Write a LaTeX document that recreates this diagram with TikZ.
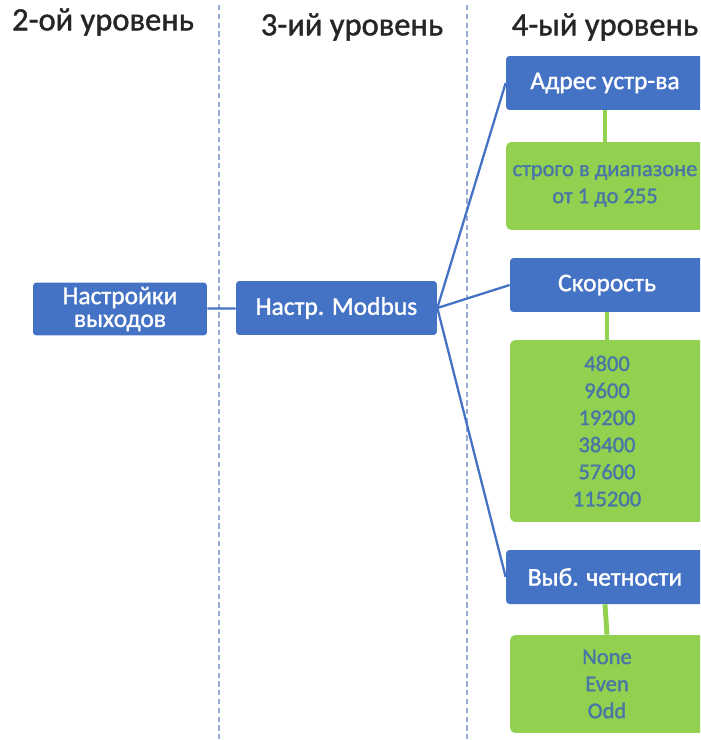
\documentclass[tikz,border=0pt]{standalone}
\usepackage{fontspec}
\setmainfont{Carlito}[RawFeature={embolden=1.3}]
\usetikzlibrary{positioning}

\begin{document}
\begin{tikzpicture}[x=0.02cm, y=-0.02cm,
    blueBox/.style={rectangle, rounded corners=2pt, fill=boxBlue, text=white,
        font=\fontsize{14.5}{13}\selectfont, align=center, inner sep=0pt},
    greenBox/.style={rectangle, rounded corners=3pt, fill=boxGreen, text=valText,
        font=\fontsize{12.8}{15.4}\selectfont, align=center, inner sep=0pt},
    levelTitle/.style={font=\fontsize{18.5}{20}\selectfont, text=black!85},
    branch/.style={draw=boxBlue, line width=1.3pt},
    leaf/.style={draw=boxGreen, line width=2.8pt}]
        % --- CONFIGURATION ---
        \definecolor{boxBlue}{RGB}{68, 114, 196}    % bleu des blocs
        \definecolor{boxGreen}{RGB}{146, 208, 80}   % vert des valeurs
        \definecolor{valText}{RGB}{72, 118, 165}    % texte des valeurs
        \definecolor{sepLine}{RGB}{150, 172, 214}   % separateurs

        \clip (0,0) rectangle (700,740);

        % Separateurs de niveaux
        \draw[sepLine, dashed, dash pattern=on 3pt off 2pt, line width=0.6pt] (219,5) -- (219,740);
        \draw[sepLine, dashed, dash pattern=on 3pt off 2pt, line width=0.6pt] (467,5) -- (467,740);

        % Titres
        \node[levelTitle] (lvlTwo) at (103,22) {2-ой уровень};
        \node[levelTitle] (lvlThree) at (352,27) {3-ий уровень};
        \node[levelTitle] (lvlFour) at (605,27) {4-ый уровень};

        % --- BLOCS ---
        \node[blueBox, minimum width=3.48cm, minimum height=1.06cm] (outSet) at (120,309) {Настройки\\выходов};
        \node[blueBox, minimum width=4.02cm, minimum height=1.08cm] (modbus) at (336.5,308) {Настр. Modbus};

        \node[blueBox, minimum width=3.96cm, minimum height=1.08cm] (devAddr) at (605,83) {Адрес устр-ва};
        \node[greenBox, minimum width=3.96cm, minimum height=1.76cm] (addrRange) at (605,186) {строго в диапазоне\\от 1 до 255};

        \node[blueBox, minimum width=3.88cm, minimum height=1.08cm] (speed) at (607,285) {Скорость};
        \node[greenBox, minimum width=3.88cm, minimum height=3.64cm] (speedVals) at (607,431)
            {4800\\9600\\19200\\38400\\57600\\115200};

        \node[blueBox, minimum width=3.96cm, minimum height=1.08cm] (parity) at (605,577) {Выб. четности};
        \node[greenBox, minimum width=3.88cm, minimum height=1.96cm] (parityVals) at (607,684) {None\\Even\\Odd};

        % --- LIAISONS ---
        \draw[branch] (outSet) -- (modbus);
        \draw[branch] (modbus.east) -- (devAddr.west);
        \draw[branch] (modbus.east) -- (speed.west);
        \draw[branch] (modbus.east) -- (parity.west);

        \draw[leaf] (devAddr.south) -- (addrRange.north);
        \draw[leaf] (speed.south) -- (speedVals.north);
        \draw[leaf] (parity.south) -- (parityVals.north);
\end{tikzpicture}
\end{document}
